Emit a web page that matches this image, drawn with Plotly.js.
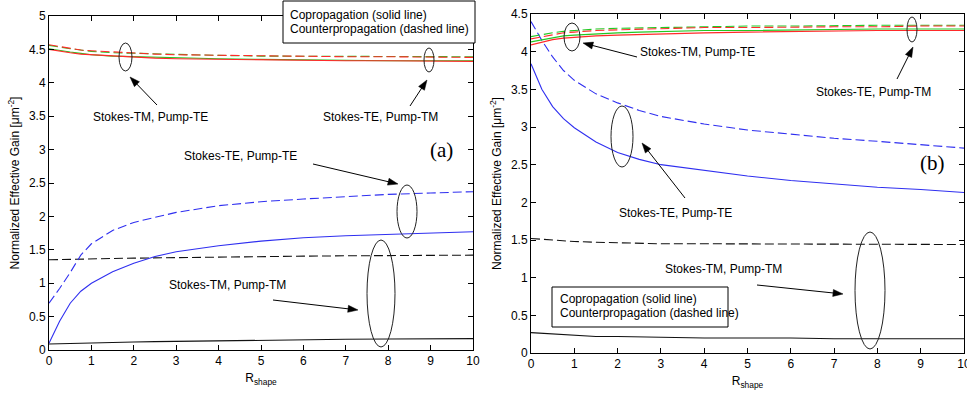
<!DOCTYPE html>
<html>
<head>
<meta charset="utf-8">
<script src="https://cdn.plot.ly/plotly-3.0.1.min.js"></script>
<style>html,body{margin:0;padding:0;background:#fff;}#chart{width:967px;height:393px;}</style>
</head>
<body>
<div id="chart"></div>
<script>
// ---- Data ----
const rShape = [0, 0.25, 0.5, 0.75, 1, 1.5, 2, 2.5, 3, 4, 5, 6, 7, 8, 9, 10];

// Panel (a)
const aTMTE_co      = [4.50, 4.47, 4.45, 4.43, 4.42, 4.40, 4.38, 4.37, 4.36, 4.35, 4.34, 4.34, 4.33, 4.33, 4.32, 4.32];
const aTETM_co      = [4.51, 4.48, 4.46, 4.44, 4.42, 4.40, 4.39, 4.38, 4.37, 4.36, 4.35, 4.34, 4.34, 4.33, 4.33, 4.33];
const aTMTE_counter = [4.57, 4.54, 4.51, 4.49, 4.48, 4.46, 4.44, 4.43, 4.42, 4.41, 4.40, 4.40, 4.39, 4.39, 4.39, 4.38];
const aTETM_counter = [4.56, 4.53, 4.51, 4.49, 4.47, 4.45, 4.44, 4.43, 4.42, 4.41, 4.40, 4.40, 4.40, 4.39, 4.39, 4.39];
const aTETE_co      = [0.10, 0.43, 0.70, 0.88, 1.00, 1.17, 1.30, 1.40, 1.47, 1.56, 1.63, 1.68, 1.71, 1.73, 1.75, 1.77];
const aTETE_counter = [0.70, 0.92, 1.16, 1.42, 1.59, 1.79, 1.91, 1.99, 2.06, 2.16, 2.22, 2.26, 2.30, 2.33, 2.35, 2.37];
const aTMTM_co      = [0.09, 0.095, 0.10, 0.105, 0.11, 0.115, 0.12, 0.125, 0.13, 0.14, 0.15, 0.155, 0.16, 0.165, 0.17, 0.17];
const aTMTM_counter = [1.35, 1.355, 1.36, 1.36, 1.365, 1.37, 1.375, 1.38, 1.385, 1.39, 1.40, 1.405, 1.41, 1.415, 1.42, 1.42];

// Panel (b)
const bTMTE_co      = [4.09, 4.13, 4.16, 4.18, 4.19, 4.21, 4.22, 4.23, 4.24, 4.25, 4.26, 4.27, 4.27, 4.28, 4.28, 4.28];
const bTETM_co      = [4.13, 4.16, 4.19, 4.21, 4.22, 4.24, 4.25, 4.26, 4.27, 4.28, 4.28, 4.29, 4.29, 4.30, 4.30, 4.30];
const bTMTE_counter = [4.17, 4.20, 4.23, 4.25, 4.26, 4.28, 4.29, 4.30, 4.31, 4.32, 4.32, 4.33, 4.33, 4.33, 4.34, 4.34];
const bTETM_counter = [4.20, 4.23, 4.25, 4.27, 4.28, 4.30, 4.31, 4.32, 4.32, 4.33, 4.34, 4.34, 4.35, 4.35, 4.35, 4.35];
const bTETE_co      = [3.84, 3.50, 3.27, 3.11, 2.99, 2.80, 2.66, 2.57, 2.50, 2.42, 2.35, 2.29, 2.24, 2.20, 2.17, 2.13];
const bTETE_counter = [4.40, 4.15, 3.93, 3.75, 3.62, 3.44, 3.32, 3.22, 3.14, 3.04, 2.96, 2.90, 2.85, 2.81, 2.77, 2.72];
const bTMTM_co      = [0.27, 0.26, 0.25, 0.24, 0.23, 0.22, 0.22, 0.21, 0.21, 0.20, 0.20, 0.20, 0.19, 0.19, 0.19, 0.19];
const bTMTM_counter = [1.52, 1.51, 1.50, 1.49, 1.48, 1.47, 1.46, 1.46, 1.45, 1.45, 1.45, 1.45, 1.44, 1.44, 1.44, 1.44];

const xTicks = [0, 1, 2, 3, 4, 5, 6, 7, 8, 9, 10];
const legendLines = ["Copropagation (solid line)", "Counterpropagation (dashed line)"];

// ---- Styles ----
const W = 967, H = 393;
const BLUE = '#2f2ff0', RED = '#ff2a2a', GREEN = '#22c822', BLACK = '#111111';
const DASH = '9px,4px';
const FONT = 'Liberation Sans, Arial, sans-serif';

function tr(y, color, dashed, xa, ya) {
  return {x: rShape, y: y, type: 'scatter', mode: 'lines', xaxis: xa, yaxis: ya,
    line: {color: color, width: 1.1, dash: dashed ? DASH : 'solid'}, showlegend: false, hoverinfo: 'skip'};
}

const data = [
  tr(aTMTM_co, BLACK, false, 'x', 'y'),
  tr(aTMTM_counter, BLACK, true, 'x', 'y'),
  tr(aTETE_co, BLUE, false, 'x', 'y'),
  tr(aTETE_counter, BLUE, true, 'x', 'y'),
  tr(aTETM_co, GREEN, false, 'x', 'y'),
  tr(aTMTE_co, RED, false, 'x', 'y'),
  tr(aTETM_counter, GREEN, true, 'x', 'y'),
  tr(aTMTE_counter, RED, true, 'x', 'y'),
  tr(bTMTM_co, BLACK, false, 'x2', 'y2'),
  tr(bTMTM_counter, BLACK, true, 'x2', 'y2'),
  tr(bTETE_co, BLUE, false, 'x2', 'y2'),
  tr(bTETE_counter, BLUE, true, 'x2', 'y2'),
  tr(bTETM_co, GREEN, false, 'x2', 'y2'),
  tr(bTMTE_co, RED, false, 'x2', 'y2'),
  tr(bTETM_counter, GREEN, true, 'x2', 'y2'),
  tr(bTMTE_counter, RED, true, 'x2', 'y2')
];

const px = v => v / W;
const py = v => 1 - v / H;

function axisX(domain, anchor) {
  return {domain: domain, anchor: anchor, range: [0, 10], tickvals: xTicks, ticks: 'inside', ticklen: 5,
    showline: true, mirror: 'ticks', linecolor: '#000', linewidth: 1, tickcolor: '#000', showgrid: false, zeroline: false,
    ticklabeloverflow: 'allow',
    tickfont: {family: FONT, size: 12, color: '#000'},
    title: {text: 'R<sub>shape</sub>', font: {family: FONT, size: 12, color: '#000'}, standoff: 6}};
}
function axisY(domain, anchor, top) {
  return {domain: domain, anchor: anchor, range: [0, top], dtick: 0.5, ticks: 'inside', ticklen: 5,
    showline: true, mirror: 'ticks', linecolor: '#000', linewidth: 1, tickcolor: '#000', showgrid: false, zeroline: false,
    tickfont: {family: FONT, size: 12, color: '#000'},
    title: {text: 'Normalized Effective Gain [&#956;m<sup>-2</sup>]', font: {family: FONT, size: 12, color: '#000'}, standoff: 6}};
}

function ellipse(cx, cy, rx, ry) {
  return {type: 'circle', xref: 'paper', yref: 'paper', x0: px(cx - rx), x1: px(cx + rx), y0: py(cy + ry), y1: py(cy - ry),
    line: {color: '#222', width: 1}};
}
function box(x0, y0, x1, y1) {
  return {type: 'rect', xref: 'paper', yref: 'paper', x0: px(x0), x1: px(x1), y0: py(y1), y1: py(y0),
    line: {color: '#000', width: 1}, fillcolor: '#fff', layer: 'above'};
}
function label(text, cx, cy, opts) {
  return Object.assign({text: text, xref: 'paper', yref: 'paper', x: px(cx), y: py(cy), showarrow: false,
    xanchor: 'center', yanchor: 'middle', font: {family: FONT, size: 12, color: '#000'}}, opts || {});
}
// arrow drawn as a line shape plus a filled triangular head (all in paper coordinates)
function arrowShapes(tx, ty, hx, hy) {
  const dx = hx - tx, dy = hy - ty, len = Math.hypot(dx, dy);
  const ux = dx / len, uy = dy / len, nx = -uy, ny = ux;
  const L = 10, w = 3.5;
  const bx = hx - L * ux, by = hy - L * uy;
  const p1 = [bx + w * nx, by + w * ny], p2 = [bx - w * nx, by - w * ny];
  const P = (x, y) => px(x).toFixed(5) + ',' + py(y).toFixed(5);
  return [
    {type: 'line', xref: 'paper', yref: 'paper', x0: px(tx), y0: py(ty), x1: px(bx + 2 * ux), y1: py(by + 2 * uy),
      line: {color: '#000', width: 1}},
    {type: 'path', xref: 'paper', yref: 'paper',
      path: 'M' + P(hx, hy) + ' L' + P(p1[0], p1[1]) + ' L' + P(p2[0], p2[1]) + ' Z',
      fillcolor: '#000', line: {color: '#000', width: 0.5}}
  ];
}

const shapes = [
  // panel (a)
  ellipse(125.5, 57, 6.5, 14), ellipse(429, 60, 5, 12), ellipse(407, 211.5, 10, 26.5), ellipse(381, 293.5, 14, 53.5),
  box(283, 1, 475, 43),
  ...arrowShapes(157, 105, 130, 77), ...arrowShapes(410, 106, 427, 80),
  ...arrowShapes(313, 164, 398, 184), ...arrowShapes(273, 300, 358, 310),
  // panel (b)
  ellipse(572, 37, 8, 14), ellipse(912, 29.5, 5, 12.5), ellipse(622, 136.5, 11, 30.5), ellipse(870, 290.5, 15, 58.5),
  box(552, 287, 728, 327),
  ...arrowShapes(637, 57, 583, 43), ...arrowShapes(897, 79, 913, 47),
  ...arrowShapes(685, 198, 642, 143), ...arrowShapes(757, 285, 843, 294)
];

const SERIF = {family: 'Liberation Serif, Times New Roman, serif', size: 21, color: '#000'};
const annotations = [
  label('Stokes-TM, Pump-TE', 150, 117),
  label('Stokes-TE, Pump-TM', 380, 117),
  label('(a)', 441, 150, {font: SERIF}),
  label('Stokes-TE, Pump-TE', 240, 156),
  label('Stokes-TM, Pump-TM', 227, 285),
  label(legendLines[0], 288, 15, {xanchor: 'left'}),
  label(legendLines[1], 288, 29, {xanchor: 'left'}),

  label('Stokes-TM, Pump-TE', 697, 52),
  label('Stokes-TE, Pump-TM', 873, 92),
  label('(b)', 932, 163, {font: SERIF}),
  label('Stokes-TE, Pump-TE', 675, 213),
  label('Stokes-TM, Pump-TM', 723, 269),
  label(legendLines[0], 558, 299, {xanchor: 'left'}),
  label(legendLines[1], 558, 313, {xanchor: 'left'})
];

const layout = {
  width: W, height: H, margin: {l: 0, r: 0, t: 0, b: 0},
  paper_bgcolor: '#fff', plot_bgcolor: '#fff', showlegend: false,
  font: {family: FONT, color: '#000'},
  xaxis: axisX([px(49), px(473)], 'y'),
  yaxis: axisY([py(350), py(16)], 'x', 5),
  xaxis2: axisX([px(531), px(964)], 'y2'),
  yaxis2: axisY([py(353), py(14)], 'x2', 4.5),
  shapes: shapes,
  annotations: annotations
};

Plotly.newPlot('chart', data, layout, {staticPlot: true, displayModeBar: false});
</script>
</body>
</html>
